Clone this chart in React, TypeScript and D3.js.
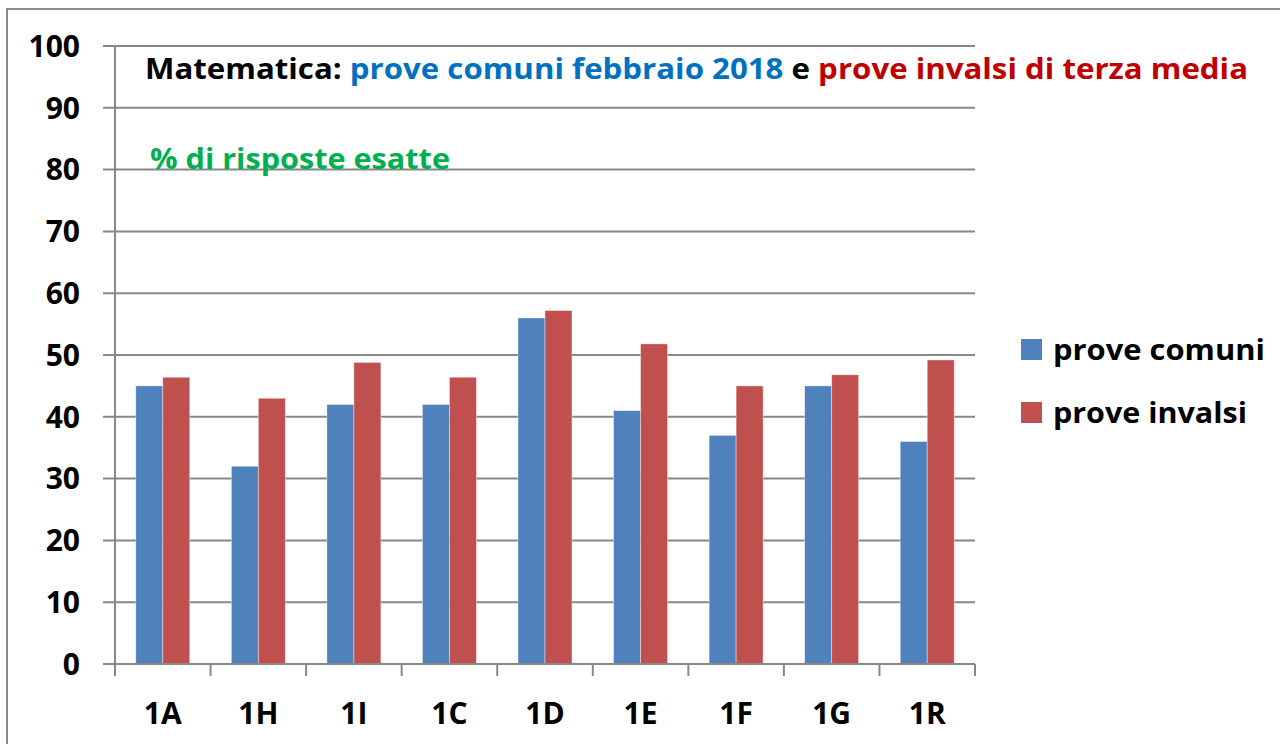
import React from "react";
import * as d3 from "d3";

// classes and % of correct answers
const classes = ["1A", "1H", "1I", "1C", "1D", "1E", "1F", "1G", "1R"];
const proveComuni = [45, 32, 42, 42, 56, 41, 37, 45, 36];
const proveInvalsi = [46.4, 43, 48.8, 46.4, 57.2, 51.8, 45, 46.8, 49.2];
const yTicks = [0, 10, 20, 30, 40, 50, 60, 70, 80, 90, 100];
const seriesNames = ["prove comuni", "prove invalsi"];
const seriesColors = ["#4F81BD", "#C0504D"];

const W = 1280;
const H = 744;
const left = 115;
const right = 975;
const top = 46;
const bottom = 664;
const font = "'Open Sans', 'Noto Sans', sans-serif";

const App = () => {
  const x = d3.scaleBand<string>().domain(classes).range([left, right]);
  const y = d3.scaleLinear().domain([0, 100]).range([bottom, top]);
  const inner = d3
    .scaleBand<string>()
    .domain(seriesNames)
    .range([0, x.bandwidth()])
    .paddingOuter(0.77)
    .paddingInner(0);

  const series = [proveComuni, proveInvalsi];
  const gridColor = "#888888";

  return (
    <svg
      width={W}
      height={H}
      style={{ position: "absolute", left: 0, top: 0, background: "#fff" }}
      fontFamily={font}
    >
      <rect x={7} y={9} width={W} height={H} fill="#fff" stroke="#8c8c8c" strokeWidth={2} />

      {/* gridlines + y ticks */}
      {yTicks.map((t) => (
        <g key={t}>
          <line x1={103} x2={right} y1={y(t)} y2={y(t)} stroke={gridColor} strokeWidth={2} />
          <text
            x={80}
            y={y(t)}
            dy="0.36em"
            textAnchor="end"
            fontSize={30}
            fontWeight="bold"
            fill="#000"
          >
            {t}
          </text>
        </g>
      ))}

      {/* y axis */}
      <line x1={left} x2={left} y1={top} y2={bottom} stroke={gridColor} strokeWidth={2} />

      {/* x ticks */}
      {[...classes.map((c) => x(c) as number), right].map((px, i) => (
        <line key={i} x1={px} x2={px} y1={bottom} y2={bottom + 12} stroke={gridColor} strokeWidth={2} />
      ))}

      {/* bars */}
      {series.map((vals, si) =>
        vals.map((v, i) => (
          <rect
            key={si + "-" + i}
            x={(x(classes[i]) as number) + (inner(seriesNames[si]) as number)}
            y={y(v)}
            width={inner.bandwidth()}
            height={y(0) - y(v)}
            fill={seriesColors[si]}
            stroke="#fff"
            strokeOpacity={0.5}
            strokeWidth={0.8}
          />
        ))
      )}

      {/* redraw 0 line above bars */}
      <line x1={103} x2={right} y1={y(0)} y2={y(0)} stroke={gridColor} strokeWidth={2} />

      {/* x labels */}
      {classes.map((c) => (
        <text
          key={c}
          x={(x(c) as number) + x.bandwidth() / 2}
          y={713}
          dy="0.36em"
          textAnchor="middle"
          fontSize={30}
          fontWeight="bold"
          fill="#000"
        >
          {c}
        </text>
      ))}

      {/* title */}
      <text
        x={145}
        y={79}
        fontSize={29}
        fontWeight="bold"
        textLength={1103}
        lengthAdjust="spacingAndGlyphs"
      >
        <tspan fill="#000">Matematica: </tspan>
        <tspan fill="#0070C0">prove comuni febbraio 2018 </tspan>
        <tspan fill="#000">e </tspan>
        <tspan fill="#C00000">prove invalsi di terza media</tspan>
      </text>
      <text
        x={150}
        y={169}
        fontSize={29}
        fontWeight="bold"
        fill="#00B050"
        textLength={300}
        lengthAdjust="spacingAndGlyphs"
      >
        % di risposte esatte
      </text>

      {/* legend */}
      {seriesNames.map((n, i) => (
        <g key={n} transform={`translate(1021, ${339 + i * 63})`}>
          <rect width={21} height={21} fill={seriesColors[i]} />
          <text
            x={32}
            y={10.5}
            dy="0.36em"
            fontSize={29}
            fontWeight="bold"
            fill="#000"
            textLength={i === 0 ? 212 : 194}
            lengthAdjust="spacingAndGlyphs"
          >
            {n}
          </text>
        </g>
      ))}
    </svg>
  );
};

export default App;
